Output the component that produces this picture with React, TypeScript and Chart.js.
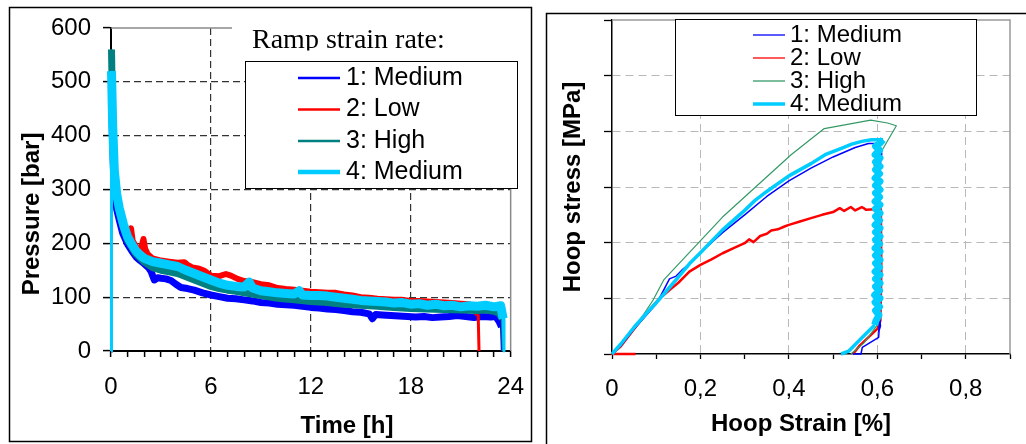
import React, { useEffect, useRef } from 'react';
import { Chart, registerables } from 'chart.js';

Chart.register(...registerables);

const seriesNames = ['1: Medium', '2: Low', '3: High', '4: Medium'];

// ---------- Left panel: pressure [bar] vs time [h] ----------
const time1 = [0, 0.03, 0.1, 0.2, 0.35, 0.5, 0.7, 1, 1.25, 1.5, 1.75, 2, 2.25, 2.4, 2.6, 2.8, 3, 3.3, 3.6, 3.9, 4.2, 4.6, 5, 5.5, 6, 6.5, 7, 7.5, 8, 8.5, 9, 9.5, 10, 10.5, 11, 11.5, 12, 12.5, 13, 13.5, 14, 14.5, 15, 15.5, 15.7, 15.9, 16.3, 16.8, 17.3, 17.8, 18.3, 18.8, 19.3, 19.8, 20.3, 20.8, 21.3, 21.8, 22.3, 22.8, 23.1, 23.3, 23.45, 23.5];
const pressure1 = [0, 480, 380, 300, 262, 243, 219, 198, 186, 175, 168, 162, 155, 148, 132, 136, 135, 134, 131, 124, 118, 116, 113, 108, 104, 101, 98, 97, 95, 93, 90, 89, 87, 86, 85, 83, 81, 80, 78, 77, 75, 73, 72, 69, 60, 68, 67, 66, 65, 64, 63, 64, 62, 63, 64, 66, 64, 62, 64, 63, 64, 55, 45, 0];

const time2 = [0, 0.03, 0.1, 0.2, 0.35, 0.5, 0.75, 1, 1.2, 1.3, 1.5, 1.75, 1.95, 2.05, 2.2, 2.5, 3, 3.5, 4, 4.4, 4.6, 4.9, 5.3, 5.6, 6, 6.5, 6.9, 7.2, 7.6, 8, 8.5, 9, 9.5, 10, 10.5, 11, 11.5, 12, 12.5, 13, 13.5, 14, 14.5, 15, 15.5, 16, 16.5, 17, 17.5, 18, 18.5, 19, 19.5, 20, 20.5, 21, 21.5, 21.9, 22.05, 22.1];
const pressure2 = [0, 500, 410, 330, 285, 262, 232, 212, 228, 205, 194, 184, 208, 190, 180, 172, 168, 166, 164, 165, 160, 155, 153, 149, 140, 139, 143, 140, 134, 130, 128, 124, 122, 117, 115, 114, 112, 110, 109, 108, 108, 105, 103, 100, 99, 97, 96, 95, 95, 93, 93, 92, 91, 90, 89, 88, 87, 74, 68, 0];

const time3 = [0, 0.03, 0.1, 0.2, 0.35, 0.5, 0.75, 1, 1.5, 2, 2.5, 3, 3.5, 4, 4.5, 5, 5.5, 6, 6.5, 7, 7.5, 8, 9, 10, 11, 12, 13, 13.5, 14, 15, 16, 17, 18, 19, 20, 21, 22, 22.5, 23, 23.3, 23.5, 23.55];
const pressure3 = [0, 560, 430, 330, 285, 258, 228, 205, 180, 165, 155, 150, 147, 144, 138, 132, 126, 120, 116, 113, 111, 108, 103, 98, 95, 92, 90, 88, 87, 85, 83, 81, 79, 78, 77, 76, 75, 76, 74, 70, 60, 0];

const time4 = [0, 0.03, 0.1, 0.2, 0.35, 0.5, 0.75, 1, 1.25, 1.5, 1.75, 2, 2.5, 3, 3.5, 4, 4.5, 5, 5.5, 6, 6.5, 7, 7.5, 8, 8.3, 8.5, 9, 9.5, 10, 10.5, 11, 11.3, 11.5, 12, 12.5, 13, 13.5, 14, 14.5, 15, 15.5, 16, 16.5, 17, 17.5, 18, 18.5, 19, 19.5, 20, 20.5, 21, 21.5, 22, 22.5, 23, 23.4, 23.55, 23.6];
const pressure4 = [0, 520, 420, 335, 290, 265, 235, 212, 198, 186, 178, 172, 166, 163, 160, 157, 150, 144, 138, 132, 126, 122, 120, 119, 128, 117, 112, 110, 108, 107, 106, 112, 104, 103, 103, 102, 100, 98, 96, 94, 93, 92, 91, 89, 90, 87, 88, 85, 87, 84, 85, 82, 84, 83, 85, 82, 84, 60, 0];

const timeTickLabels = ['0', '6', '12', '18', '24'];

// ---------- Right panel: hoop stress vs hoop strain [%] ----------
const strain1 = [0, 0.02, 0.05, 0.08, 0.1, 0.115, 0.13, 0.145, 0.16, 0.175, 0.2, 0.25, 0.3, 0.35, 0.4, 0.45, 0.5, 0.55, 0.58, 0.605, 0.61, 0.603, 0.606, 0.603, 0.606, 0.604, 0.607, 0.603, 0.606, 0.603, 0.566, 0.563, 0.545];
const stress1 = [0, 15, 45, 72, 90, 112, 135, 140, 152, 162, 182, 218, 250, 283, 311, 334, 354, 371, 378, 378, 360, 320, 260, 190, 130, 80, 50, 40, 65, 30, 12, 0, 0];

const strain2 = [0.053, 0, 0.02, 0.05, 0.08, 0.104, 0.13, 0.15, 0.175, 0.2, 0.225, 0.25, 0.275, 0.3, 0.31, 0.32, 0.335, 0.35, 0.36, 0.375, 0.39, 0.4, 0.425, 0.45, 0.475, 0.5, 0.515, 0.525, 0.54, 0.55, 0.565, 0.575, 0.595, 0.608, 0.609, 0.607, 0.6, 0.56, 0.545];
const stress2 = [0, 0, 14, 45, 75, 97, 115, 128, 148, 160, 170, 181, 190, 199, 206, 201, 212, 216, 222, 224, 229, 232, 238, 244, 250, 255, 262, 257, 264, 258, 264, 259, 260, 260, 150, 60, 45, 15, 0];

const strain3 = [0, 0.05, 0.093, 0.117, 0.25, 0.405, 0.48, 0.585, 0.623, 0.643, 0.61, 0.6, 0.592, 0.606, 0.603, 0.606, 0.604, 0.6, 0.598, 0.57, 0.54];
const stress3 = [0, 45, 97, 133, 246, 358, 405, 420, 415, 410, 365, 345, 338, 332, 300, 200, 100, 60, 50, 20, 0];

const strain4 = [0, 0.02, 0.05, 0.08, 0.1, 0.125, 0.15, 0.175, 0.2, 0.25, 0.3, 0.325, 0.35, 0.4, 0.45, 0.482, 0.52, 0.542, 0.565, 0.587, 0.613,
  0.606, 0.596, 0.605, 0.595, 0.606, 0.596, 0.606, 0.596, 0.605, 0.595, 0.606, 0.596, 0.606, 0.596, 0.605, 0.595, 0.606, 0.596,
  0.606, 0.596, 0.605, 0.595, 0.606, 0.596, 0.606, 0.596, 0.605, 0.595, 0.606, 0.596, 0.606, 0.596, 0.605, 0.595, 0.606, 0.596,
  0.606, 0.596, 0.605, 0.594, 0.606, 0.595, 0.605, 0.596, 0.604, 0.597,
  0.594, 0.56, 0.535, 0.518];
const stress4 = [0, 18, 48, 75, 92, 115, 138, 162, 182, 223, 258, 277, 292, 320, 342, 358, 370, 377, 382, 385, 385,
  379, 373, 366, 358, 352, 345, 337, 331, 324, 316, 310, 303, 295, 289, 282, 274, 268, 261,
  253, 247, 240, 232, 226, 219, 211, 205, 198, 190, 184, 177, 169, 163, 156, 148, 142, 135,
  127, 121, 114, 106, 100, 93, 85, 78, 70, 60,
  52, 25, 5, 0];

const strainTickLabels = ['0', '0,2', '0,4', '0,6', '0,8'];

const SANS = "'Liberation Sans', Arial, Helvetica, sans-serif";
const SERIF = "'Liberation Serif', 'Times New Roman', serif";

const leftColors = ['#0000FF', '#FF0000', '#008080', '#00CCFF'];
const rightColors = ['#0000FF', '#FF0000', '#339966', '#00CCFF'];

const pts = (xs: number[], ys: number[]) => xs.map((x, i) => ({ x, y: ys[i] }));

function drawLegend(ctx: CanvasRenderingContext2D, box: number[], x1: number, x2: number, tx: number, rows: number[], widths: number[], colors: string[], fontSize: number) {
  ctx.fillStyle = '#fff';
  ctx.fillRect(box[0], box[1], box[2], box[3]);
  ctx.strokeStyle = '#000';
  ctx.lineWidth = 1;
  ctx.strokeRect(box[0], box[1], box[2], box[3]);
  ctx.font = `${fontSize}px ${SANS}`;
  ctx.textAlign = 'left';
  ctx.textBaseline = 'middle';
  rows.forEach((y, i) => {
    ctx.strokeStyle = colors[i];
    ctx.lineWidth = widths[i];
    ctx.beginPath();
    ctx.moveTo(x1, y);
    ctx.lineTo(x2, y);
    ctx.stroke();
    ctx.fillStyle = '#000';
    ctx.fillText(seriesNames[i], tx, y);
  });
}

function drawTitle(ctx: CanvasRenderingContext2D, text: string, x: number, y: number, rotate: boolean) {
  ctx.save();
  ctx.translate(x, y);
  if (rotate) ctx.rotate(-Math.PI / 2);
  ctx.font = `bold 24px ${SANS}`;
  ctx.fillStyle = '#000';
  ctx.textAlign = 'center';
  ctx.textBaseline = rotate ? 'middle' : 'alphabetic';
  ctx.fillText(text, 0, 0);
  ctx.restore();
}

const leftDecor = {
  id: 'leftDecor',
  afterDraw(chart: any) {
    const { ctx, chartArea: a } = chart;
    ctx.save();
    ctx.strokeStyle = '#000';
    ctx.lineWidth = 1.5;
    ctx.strokeRect(9.5, 7.5, 522, 434);
    ctx.strokeStyle = '#8a8a8a';
    ctx.lineWidth = 1.5;
    ctx.beginPath();
    ctx.moveTo(a.left, a.top);
    ctx.lineTo(a.right, a.top);
    ctx.lineTo(a.right, a.bottom);
    ctx.stroke();
    ctx.fillStyle = '#fff';
    ctx.fillRect(232, 14, 292, 48);
    ctx.save();
    ctx.beginPath();
    ctx.rect(232, 14, 292, 36.5);
    ctx.clip();
    ctx.fillStyle = '#000';
    ctx.font = `28px ${SERIF}`;
    ctx.textAlign = 'left';
    ctx.textBaseline = 'alphabetic';
    ctx.fillText('Ramp strain rate:', 252, 48);
    ctx.restore();
    drawLegend(ctx, [245.5, 61.5, 272, 127], 298, 340, 346, [78, 109.5, 141, 172], [2.5, 2.5, 2.5, 4.5], leftColors, 25);
    drawTitle(ctx, 'Pressure [bar]', 32, 214, true);
    drawTitle(ctx, 'Time [h]', 347, 433, false);
    ctx.restore();
  },
};

const rightDecor = {
  id: 'rightDecor',
  afterDraw(chart: any) {
    const { ctx, chartArea: a } = chart;
    ctx.save();
    ctx.strokeStyle = '#000';
    ctx.lineWidth = 1.5;
    ctx.beginPath();
    ctx.moveTo(6.5, 444);
    ctx.lineTo(6.5, 13.5);
    ctx.lineTo(486, 13.5);
    ctx.stroke();
    ctx.strokeStyle = '#999';
    ctx.lineWidth = 1.5;
    ctx.beginPath();
    ctx.moveTo(a.left, a.top);
    ctx.lineTo(a.right, a.top);
    ctx.lineTo(a.right, a.bottom);
    ctx.stroke();
    drawLegend(ctx, [135.5, 19.5, 301, 96], 213, 245, 250, [35, 58, 81, 104], [1.3, 1.3, 1.3, 3.5], rightColors, 24);
    drawTitle(ctx, 'Hoop stress [MPa]', 33, 187, true);
    drawTitle(ctx, 'Hoop Strain [%]', 261, 431, false);
    ctx.restore();
  },
};

const tickFont = { family: SANS, size: 24 };
const none = 'rgba(0,0,0,0)';

function leftConfig(): any {
  const widths = [7, 6, 7, 9];
  const order = [4, 3, 2, 1];
  const sets = [pts(time1, pressure1), pts(time2, pressure2), pts(time3, pressure3), pts(time4, pressure4)];
  return {
    type: 'scatter',
    data: {
      datasets: sets.map((d, i) => ({
        label: seriesNames[i], data: d, showLine: true, borderColor: leftColors[i], backgroundColor: leftColors[i],
        borderWidth: widths[i], pointRadius: 0, tension: 0, order: order[i], clip: false, borderJoinStyle: 'round',
        segment: {
          borderWidth: (s: any) => (s.p0DataIndex === 0 || s.p1DataIndex === d.length - 1 ? 3 : undefined),
        },
      })),
    },
    options: {
      animation: false, responsive: false, devicePixelRatio: 1, events: [],
      layout: { padding: { left: 0, top: 28, right: 26, bottom: 0 } },
      plugins: { legend: { display: false }, tooltip: { enabled: false } },
      scales: {
        x: {
          type: 'linear', min: 0, max: 24,
          afterFit: (s: any) => { s.height = 93; },
          ticks: {
            stepSize: 1, autoSkip: false, maxRotation: 0, padding: 16, color: '#000', font: tickFont,
            callback: (v: any) => { const n = Math.round(Number(v)); return n % 6 === 0 ? timeTickLabels[n / 6] : ''; },
          },
          grid: {
            color: (c: any) => { const v = c.tick ? Math.round(c.tick.value) : 0; return v > 0 && v < 24 && v % 6 === 0 ? '#333' : none; },
            lineWidth: 1.2, tickLength: 6, tickWidth: 1.5, tickColor: '#000',
          },
          border: { display: true, color: '#000', width: 2, dash: [7, 4] },
        },
        y: {
          type: 'linear', min: 0, max: 600,
          afterFit: (s: any) => { s.width = 111; },
          ticks: { stepSize: 100, padding: 12, color: '#000', font: tickFont },
          grid: {
            color: (c: any) => { const v = c.tick ? c.tick.value : 0; return v > 0 && v < 600 ? '#333' : none; },
            lineWidth: 1.2, tickLength: 8, tickWidth: 1.5, tickColor: '#000',
          },
          border: { display: true, color: '#000', width: 2, dash: [7, 4] },
        },
      },
    },
    plugins: [leftDecor],
  };
}

function rightConfig(): any {
  const widths = [1.5, 2.5, 1.2, 3.5];
  const order = [3, 4, 2, 1];
  const sets = [pts(strain1, stress1), pts(strain2, stress2), pts(strain3, stress3), pts(strain4, stress4)];
  // the noisy vertical unloading band of series 4 is drawn with a wider pen
  const bandStart = 20;
  const bandEnd = strain4.length - 4;
  return {
    type: 'scatter',
    data: {
      datasets: sets.map((d, i) => ({
        label: seriesNames[i], data: d, showLine: true, borderColor: rightColors[i], backgroundColor: rightColors[i],
        borderWidth: widths[i], pointRadius: 0, tension: 0, order: order[i], clip: false, borderJoinStyle: 'round',
        segment: i === 3 ? {
          borderWidth: (s: any) => (s.p0DataIndex >= bandStart && s.p1DataIndex <= bandEnd ? 7 : undefined),
        } : undefined,
      })),
    },
    options: {
      animation: false, responsive: false, devicePixelRatio: 1, events: [],
      layout: { padding: { left: 0, top: 20, right: 14, bottom: 0 } },
      plugins: { legend: { display: false }, tooltip: { enabled: false } },
      scales: {
        x: {
          type: 'linear', min: 0, max: 0.9,
          afterFit: (s: any) => { s.height = 90; },
          ticks: {
            stepSize: 0.1, autoSkip: false, maxRotation: 0, padding: 16, color: '#000', font: tickFont,
            callback: (v: any) => { const k = Math.round(Number(v) * 10); return k % 2 === 0 ? (strainTickLabels[k / 2] ?? '') : ''; },
          },
          grid: {
            color: (c: any) => { const k = c.tick ? Math.round(c.tick.value * 10) : 0; return k > 0 && k < 9 && k % 2 === 0 ? '#b8b8b8' : none; },
            lineWidth: 1, tickLength: 5, tickWidth: 1.3, tickColor: '#000',
          },
          border: { display: true, color: '#000', width: 1.5, dash: [8, 5] },
        },
        y: {
          type: 'linear', min: 0, max: 600,
          afterFit: (s: any) => { s.width = 72; },
          ticks: { stepSize: 100, display: false },
          grid: {
            color: (c: any) => { const v = c.tick ? c.tick.value : 0; return v > 0 && v < 600 ? '#b8b8b8' : none; },
            lineWidth: 1, tickLength: 8, tickWidth: 1.3, tickColor: '#000',
          },
          border: { display: true, color: '#000', width: 1.5, dash: [8, 5] },
        },
      },
    },
    plugins: [rightDecor],
  };
}

export default function App() {
  const leftRef = useRef<HTMLCanvasElement>(null);
  const rightRef = useRef<HTMLCanvasElement>(null);
  useEffect(() => {
    const c1 = new Chart(leftRef.current as HTMLCanvasElement, leftConfig());
    const c2 = new Chart(rightRef.current as HTMLCanvasElement, rightConfig());
    return () => { c1.destroy(); c2.destroy(); };
  }, []);
  return (
    <div style={{ position: 'fixed', left: 0, top: 0, width: 1026, height: 444, background: '#fff', overflow: 'hidden' }}>
      <canvas ref={leftRef} width={540} height={444} style={{ position: 'absolute', left: 0, top: 0, width: 540, height: 444 }} />
      <canvas ref={rightRef} width={486} height={444} style={{ position: 'absolute', left: 540, top: 0, width: 486, height: 444 }} />
    </div>
  );
}
